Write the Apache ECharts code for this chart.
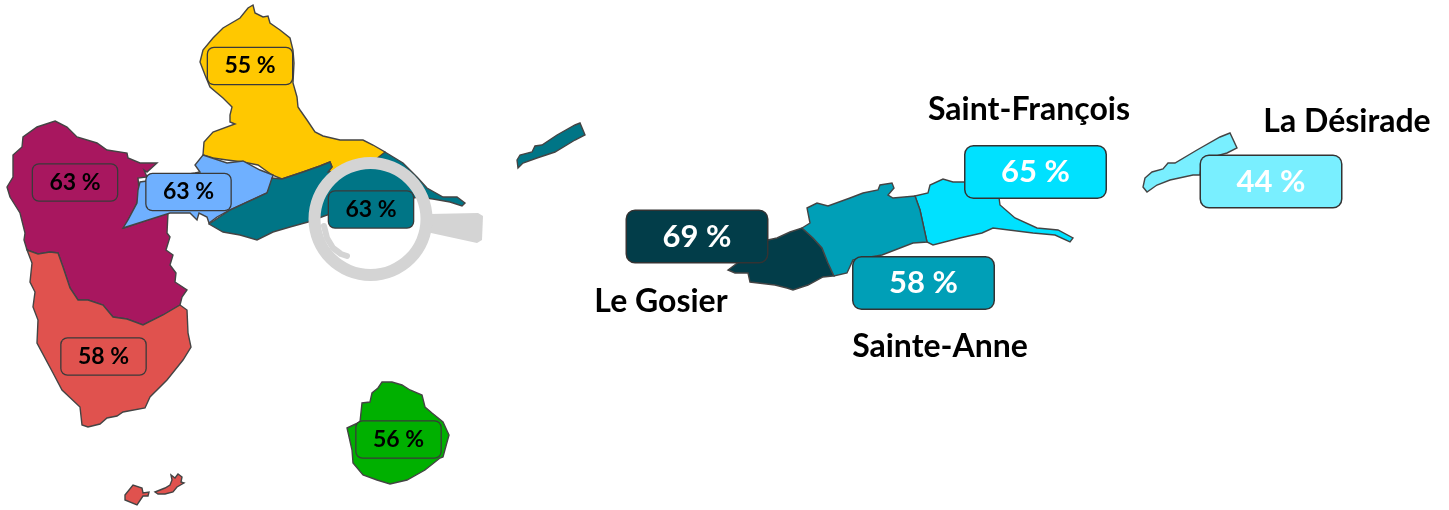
<!DOCTYPE html>
<html><head><meta charset="utf-8">
<style>html,body{margin:0;padding:0;background:#fff}#c{width:1449px;height:510px;filter:blur(0.7px)}</style>
<script src="https://cdn.jsdelivr.net/npm/echarts@6/dist/echarts.min.js"></script>
</head><body><div id="c"></div>
<script>
// ---- chart values ----
const leftNames = ['Nord Grande-Terre','Côte-sous-le-vent','Centre','Riviera','Sud Basse-Terre','Marie-Galante'];
const leftValues = [55,63,63,63,58,56];
const zoomNames = ['Le Gosier','Saint-François','Sainte-Anne','La Désirade'];
const zoomValues = [69,65,58,44];

// ---- map geometry (outline vertices of each territory, map units) ----
const shapeYellow = [[253,5],[255,13],[263,17],[268,16],[270,23],[280,30],[290,38],[293,50],[294,63],[293,83],[297,97],[298,107],[300,110],[307,120],[315,132],[323,136],[340,140],[363,140],[373,145],[385,152],[387,157],[357,169],[340,172],[328,172],[332,167],[330,162],[320,166],[303,172],[282,179],[272,175],[258,165],[243,162],[227,160],[213,158],[203,155],[204,142],[213,132],[235,124],[230,122],[230,115],[232,107],[223,98],[210,87],[205,75],[200,62],[203,50],[213,38],[223,28],[240,18],[248,8]];
const shapePurple = [[55,121],[67,127],[77,137],[97,143],[107,150],[127,153],[128,158],[140,163],[157,163],[147,172],[144,170],[147,177],[138,178],[139,190],[137,203],[128,220],[124,228],[168,213],[167,233],[170,237],[166,250],[173,255],[170,265],[176,273],[175,282],[187,290],[182,297],[180,305],[163,315],[143,325],[127,319],[113,317],[103,305],[88,300],[78,300],[70,288],[63,267],[58,253],[50,252],[38,254],[27,250],[24,240],[25,233],[20,213],[10,197],[7,187],[13,177],[13,155],[22,147],[23,137],[37,127]];
const shapeBlue = [[203,155],[227,163],[243,161],[260,170],[273,175],[270,187],[267,193],[230,210],[217,217],[209,223],[207,217],[199,213],[197,220],[190,213],[170,213],[123,228],[128,220],[137,203],[138,190],[140,182],[147,181],[195,173],[200,172],[195,165]];
const shapeTeal = [[209,224],[230,210],[267,193],[272,178],[282,179],[303,172],[320,166],[330,162],[332,167],[328,172],[340,172],[357,169],[375,160],[385,152],[403,163],[417,177],[427,188],[443,197],[457,197],[465,203],[462,206],[450,202],[433,199],[418,197],[370,207],[327,215],[308,222],[290,227],[273,232],[257,240],[240,235],[223,232]];
const shapeTealIsle = [[517,160],[520,155],[532,152],[535,146],[542,145],[557,135],[575,125],[580,123],[585,135],[575,140],[555,152],[537,158],[523,163],[518,168]];
const shapeRed = [[27,250],[38,254],[50,252],[58,253],[63,267],[70,288],[78,300],[88,300],[103,305],[113,317],[127,319],[143,325],[163,315],[180,305],[187,310],[188,333],[191,347],[183,360],[167,380],[150,397],[145,408],[123,412],[117,416],[107,418],[100,424],[88,427],[82,425],[80,407],[62,390],[53,373],[37,343],[38,320],[33,307],[35,292],[30,282],[32,263]];
const shapeRedIsleA = [[125,495],[133,485],[142,488],[143,493],[149,492],[148,496],[143,496],[137,505],[125,500]];
const shapeRedIsleB = [[155,492],[165,488],[170,485],[172,480],[171,475],[175,478],[178,474],[182,477],[181,482],[184,483],[177,487],[173,492],[165,494],[158,494]];
const shapeGreen = [[382,382],[392,382],[402,385],[410,390],[422,395],[425,407],[432,413],[443,422],[449,435],[443,457],[440,458],[425,470],[407,480],[390,484],[377,480],[363,475],[353,463],[352,450],[347,428],[360,422],[362,403],[370,402],[372,393],[378,388]];
const shapeGosier = [[802,228],[813,238],[822,248],[828,263],[834,276],[823,277],[808,285],[793,290],[787,288],[775,285],[750,282],[748,273],[735,273],[728,270],[732,267],[768,240],[777,238],[790,232]];
const shapeAnne = [[802,228],[810,223],[807,208],[817,203],[828,206],[850,198],[863,193],[878,190],[880,185],[892,183],[894,188],[888,195],[893,198],[915,196],[920,210],[927,242],[913,243],[882,255],[853,260],[847,273],[834,276],[828,263],[822,248],[813,238]];
const shapeFrancois = [[915,196],[928,193],[930,185],[943,179],[953,182],[965,182],[998,190],[1000,205],[1015,218],[1037,228],[1058,230],[1073,238],[1070,242],[1055,235],[1033,233],[993,228],[982,233],[960,238],[933,245],[927,242],[920,210]];
const shapeDesirade = [[1145,178],[1152,172],[1163,169],[1168,163],[1175,163],[1197,150],[1220,137],[1230,133],[1237,148],[1227,153],[1202,160],[1200,175],[1193,175],[1170,180],[1157,185],[1147,192],[1143,187]];

// ---- anchors of the callouts ----
const leftAnchors = [[250,66],[75,182.5],[188.5,192],[371,209.5],[103.5,356.5],[398.5,439.5]];
const zoomAnchors = [[697,236.5],[1035.5,172],[923.5,283],[1271,181.5]];
const zoomTitleAnchors = [[661,302],[1029,109.5],[940,347],[1347,122]];

const leftShapes = [[shapeYellow],[shapePurple],[shapeBlue],[shapeTeal,shapeTealIsle],[shapeRed,shapeRedIsleA,shapeRedIsleB],[shapeGreen]];
const zoomShapes = [[shapeGosier],[shapeFrancois],[shapeAnne],[shapeDesirade]];
const leftColors = ['#FFC800','#A8175F','#6FB0FF','#007586','#E0524E','#00B000'];
const zoomColors = ['#023D49','#00E1FF','#009FB7','#79EFFF'];

const toFeature = (name, polys) => ({type:'Feature',properties:{name},geometry:{type:'MultiPolygon',
  coordinates:polys.map(p=>{const r=p.map(([x,y])=>[x,-y]);r.push(r[0]);return [r];})}});
echarts.registerMap('guadeloupe',{type:'FeatureCollection',features:[
  ...leftNames.map((n,i)=>toFeature(n,leftShapes[i])),
  ...zoomNames.map((n,i)=>toFeature(n,zoomShapes[i]))
]});

const chart = echarts.init(document.getElementById('c'),null,{renderer:'canvas'});
const pt = ([x,y]) => [x,-y];
const smallFont = {fontFamily:'Lato',fontWeight:'bold',fontSize:23,color:'#000'};
const bigFont = {fontFamily:'Lato',fontWeight:'bold',fontSize:31,color:'#fff'};
chart.setOption({
  backgroundColor:'#fff',
  animation:false,
  geo:{map:'guadeloupe',silent:true,aspectScale:1,left:0,top:0,width:1449,height:510,
    boundingCoords:[[0,0],[1449,-510]],roam:false,label:{show:false},
    itemStyle:{areaColor:'#ccc',borderColor:'#444',borderWidth:1.4},z:2,
    regions:[...leftNames.map((name,i)=>({name,itemStyle:{areaColor:leftColors[i]}})),
             ...zoomNames.map((name,i)=>({name,itemStyle:{areaColor:zoomColors[i]}}))]},
  graphic:[
    {type:'polygon',z:5,shape:{points:[[429,214],[478,213],[483,216],[482,240],[477,243],[431,233]]},style:{fill:'#D4D4D4'},silent:true},
    {type:'ring',z:5,shape:{cx:370.5,cy:219,r:62,r0:50},style:{fill:'#D4D4D4'},silent:true},
    {type:'polyline',z:5,shape:{points:[[324,226],[327,238],[333,248],[341,254],[347,256]]},style:{stroke:'#D4D4D4',lineWidth:6,lineCap:'round',lineJoin:'round',fill:null},silent:true}
  ],
  series:[
    {type:'map',geoIndex:0,silent:true,z:2,
     data:[...leftNames.map((name,i)=>({name,value:leftValues[i]})),
           ...zoomNames.map((name,i)=>({name,value:zoomValues[i]}))]},
    {type:'scatter',coordinateSystem:'geo',geoIndex:0,silent:true,z:10,symbolSize:0,itemStyle:{opacity:1},
     data:leftValues.map((v,i)=>({name:leftNames[i],value:[...pt(leftAnchors[i]),v],
       label:{show:true,position:'inside',formatter:()=>v+' %',...smallFont,width:84,height:34,lineHeight:34,padding:[2,0,0,0],align:'center',verticalAlign:'middle',
         backgroundColor:leftColors[i],borderColor:'#3a3a3a',borderWidth:1.3,borderRadius:6}}))},
    {type:'scatter',coordinateSystem:'geo',geoIndex:0,silent:true,z:10,symbolSize:0,itemStyle:{opacity:1},
     data:zoomValues.map((v,i)=>({name:zoomNames[i],value:[...pt(zoomAnchors[i]),v],
       label:{show:true,position:'inside',formatter:()=>v+' %',...bigFont,width:140,height:49,lineHeight:49,padding:[2,0,0,0],align:'center',verticalAlign:'middle',
         backgroundColor:zoomColors[i],borderColor:'#333',borderWidth:1.5,borderRadius:8}}))},
    {type:'scatter',coordinateSystem:'geo',geoIndex:0,silent:true,z:10,symbolSize:0,itemStyle:{opacity:1},
     data:zoomNames.map((n,i)=>({name:n,value:pt(zoomTitleAnchors[i]),
       label:{show:true,position:'inside',formatter:n,fontFamily:'Lato',fontWeight:'bold',fontSize:32,color:'#000'}}))}
  ]
});
</script></body></html>
